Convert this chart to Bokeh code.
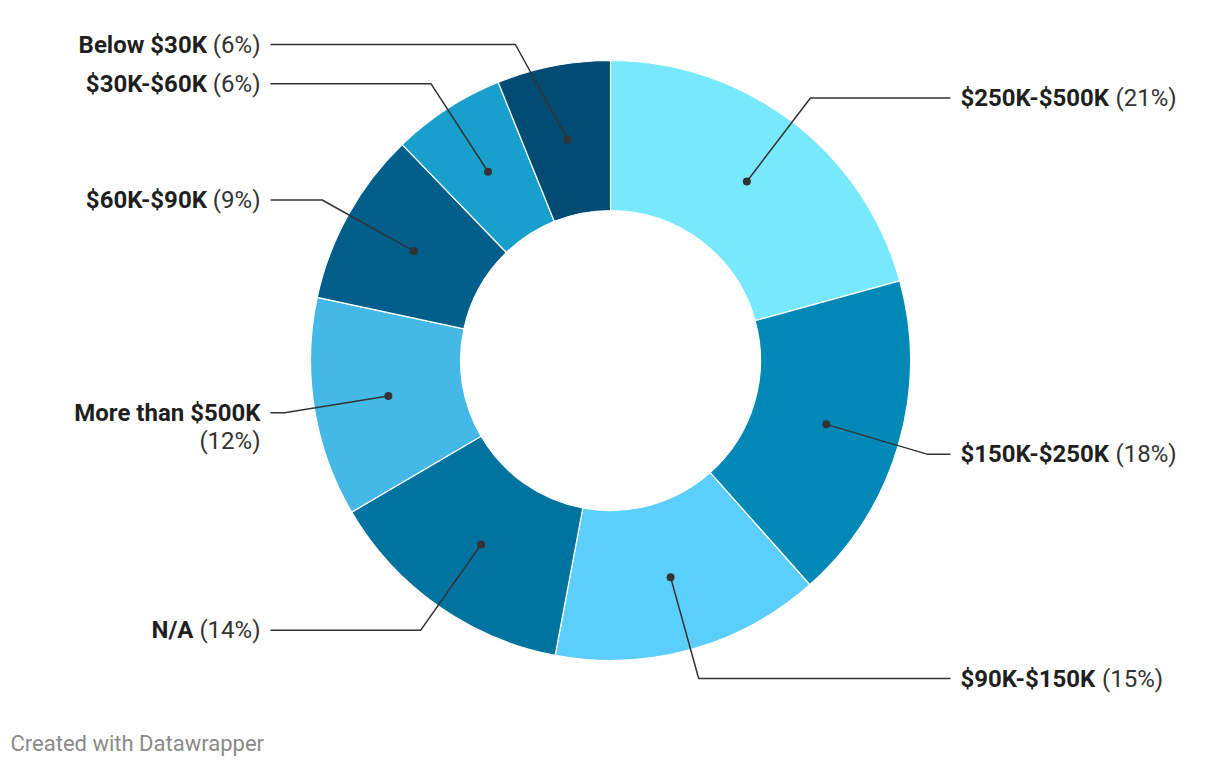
import math
from bokeh.plotting import figure
from bokeh.models import Range1d, ColumnDataSource
from bokeh.core.properties import value
from bokeh.embed import file_html
from bokeh.resources import INLINE

# ---- data ----
categories = ["$250K-$500K", "$150K-$250K", "$90K-$150K", "N/A",
              "More than $500K", "$60K-$90K", "$30K-$60K", "Below $30K"]
shares = [20.7, 17.7, 14.5, 13.6, 11.8, 9.4, 6.1, 6.1]
pct_labels = ["21%", "18%", "15%", "14%", "12%", "9%", "6%", "6%"]
colors = ["#78e8fd", "#0089b6", "#5ccefc", "#0073a0",
          "#44b8e6", "#005f8a", "#199fcc", "#024b72"]
footer = "Created with Datawrapper"

# ---- layout (screen pixel coordinates of the page) ----
W, H = 1204, 760
CX, CY = 610, 360
R_OUT, R_IN = 300, 150
R_DOT = 225
R_ELBOW = 330
LABEL_MIN_Y = 44
X_RIGHT_END, X_LEFT_END = 950, 270
FONT = "Roboto"
FSPX = 24
FS = f"{FSPX}px"

# approximate Roboto advance widths (em)
BOLD_W = {" ": 0.25, "$": 0.565, "-": 0.29, "/": 0.41, "K": 0.625, "N": 0.71,
          "A": 0.67, "M": 0.874, "B": 0.635, "o": 0.57, "r": 0.35, "e": 0.535,
          "t": 0.33, "h": 0.555, "a": 0.535, "n": 0.555, "l": 0.25, "w": 0.75}
REG_W = {" ": 0.248, "(": 0.342, ")": 0.348, "%": 0.733}

def width(txt, table):
    return sum(table.get(c, 0.562) for c in txt) * FSPX

def sy(y):  # screen y -> data y
    return 766 - y

p = figure(width=W, height=H, output_backend="svg", toolbar_location=None,
           x_range=Range1d(0, W), y_range=Range1d(766 - H, 766),
           min_border=0)
p.axis.visible = False
p.grid.visible = False
p.outline_line_color = None
p.background_fill_color = "white"
p.border_fill_color = "white"

total = sum(shares)
starts, ends, mids = [], [], []
acc = 0.0
for s in shares:
    a0 = acc / total * 2 * math.pi
    acc += s
    a1 = acc / total * 2 * math.pi
    starts.append(math.pi / 2 - a1)
    ends.append(math.pi / 2 - a0)
    mids.append((a0 + a1) / 2)

src = ColumnDataSource(dict(start=starts, end=ends, color=colors))
p.annular_wedge(x=CX, y=sy(CY), inner_radius=R_IN, outer_radius=R_OUT,
                start_angle="start", end_angle="end", fill_color="color",
                line_color="white", line_width=1.2, source=src)

NAME_COLOR = "#1f1f1f"
PCT_COLOR = "#333333"

def put(x, y, txt, bold, align):
    p.text([x], [sy(y)], text=[txt], text_font=value(FONT),
           text_font_style="bold" if bold else "normal", text_font_size=FS,
           text_color=NAME_COLOR if bold else PCT_COLOR,
           text_align=align, text_baseline="middle")

for cat, pct, m in zip(categories, pct_labels, mids):
    dx, dy = math.sin(m), -math.cos(m)
    dot = (CX + R_DOT * dx, CY + R_DOT * dy)
    ey = CY + R_ELBOW * dy
    if ey < LABEL_MIN_Y:
        ey = LABEL_MIN_Y
    ex = CX + math.copysign(math.sqrt(max(R_ELBOW ** 2 - (ey - CY) ** 2, 0)), dx)
    right = dx > 0
    xend = X_RIGHT_END if right else X_LEFT_END
    p.line([dot[0], ex, xend], [sy(dot[1]), sy(ey), sy(ey)],
           line_color="#333333", line_width=1.5)
    p.scatter([dot[0]], [sy(dot[1])], size=8, fill_color="#333333", line_color=None)
    ptxt = "(" + pct + ")"
    if right:
        tx = xend + 10
        put(tx, ey, cat, True, "left")
        put(tx + width(cat + " ", BOLD_W) + 4, ey, ptxt, False, "left")
    else:
        tx = xend - 10
        if cat == "More than $500K":
            put(tx, ey, cat, True, "right")
            put(tx, ey + 28, ptxt, False, "right")
        else:
            put(tx, ey, ptxt, False, "right")
            put(tx - width(" " + ptxt, REG_W), ey, cat, True, "right")

p.text([10], [sy(743)], text=[footer], text_font=value(FONT), text_font_size="22px",
       text_color="#8a8a8a", text_align="left", text_baseline="middle")

out = file_html(p, INLINE)
open("out.html", "w").write(out)
